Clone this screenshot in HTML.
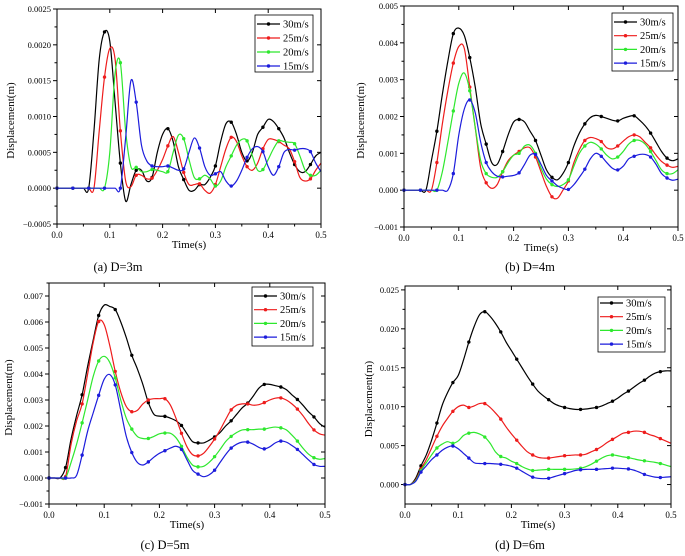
<!DOCTYPE html>
<html><head><meta charset="utf-8"><style>
body{margin:0;background:#fff;}
svg{display:block;font-family:"Liberation Serif",serif;}
</style></head><body>
<svg id="fig" width="685" height="556" viewBox="0 0 685 556"></svg>
<script>
const timeStep = 0.01;
const seriesLabels = ["30m/s","25m/s","20m/s","15m/s"];
const seriesColors = ["#000000","#ee1c1c","#2ee82e","#1c1cdc"];
// Panel (a) D=3m, units 1e-4 m
const a30=[0,0,0,0,0,0,0,8,18,21.8,20.5,12,3.5,-1.8,0.5,2.5,2.5,1,1.5,5,7.5,8.3,6.5,3,1.2,-0.3,-0.3,0.5,0.5,1.5,3.1,6.5,9,9.2,7.5,5,3.8,5,7.5,8.5,9.6,9.3,8.3,7,5,3.3,2.3,2.3,3.3,4.5,5];
const a25=[0,0,0,0,0,0,0,0,8,15.5,19.5,18,8,1,0.2,1.8,1.8,1.3,1.4,2.5,4,5.9,7.2,5,2.2,0.5,0.5,0.6,-0.3,-0.7,0.5,3,5.5,7.1,6.5,4.5,3,2.5,3.5,5.5,6.8,6.8,6.5,6,5.5,3.7,1.5,1,1.3,2.5,3.5];
const a20=[0,0,0,0,0,0,0,0,0,0,5,16,17.5,8,3,2.9,2.3,2.3,2.6,2.5,2.3,2.3,5,7.4,6.9,4,1.5,1.3,1.8,1.3,0.3,1,3,4.5,6,6.8,6.6,4.5,2.5,2.6,4,5.5,6.6,6.5,6.4,6.2,4.5,2.5,1.8,1.8,2.5];
const a15=[0,0,0,0,0,0,0,0,0,0,0,0,0,7,15,12,6,3.8,3.1,3,3,3.1,2.8,2.5,2.7,5,7,5.6,3,1.8,2,2.3,1,0.3,1,2.5,4.3,5.5,5.8,5.1,3,1.8,3,5,5.4,5.3,5.5,5.5,5.1,3.5,2.3];
// Panel (b) D=4m, units 1e-3 m
const b30=[0,0,0,0,0,0.8,1.6,2.6,3.5,4.25,4.4,4.2,3.6,2.8,1.8,1.25,0.75,0.7,1.05,1.5,1.85,1.92,1.85,1.6,1.35,0.95,0.55,0.35,0.28,0.45,0.75,1.2,1.55,1.8,1.97,2.03,2.0,1.95,1.9,1.88,1.95,2.0,2.02,1.9,1.75,1.55,1.3,1.05,0.87,0.8,0.85];
const b25=[0,0,0,0,0,0,0.75,1.8,2.7,3.45,3.9,3.85,2.8,1.7,0.6,0.2,0.05,0.15,0.5,0.8,0.95,1.05,1.15,1.15,0.9,0.5,0.1,-0.18,-0.22,0,0.25,0.75,1.1,1.35,1.43,1.4,1.32,1.15,1.12,1.2,1.33,1.45,1.5,1.45,1.3,1.15,0.95,0.78,0.68,0.62,0.65];
const b20=[0,0,0,0,0,0,0,0.5,1.3,2.15,2.9,3.18,2.7,1.7,0.8,0.45,0.35,0.35,0.5,0.75,0.95,1.0,1.2,1.22,1.0,0.6,0.3,0.15,0.1,0.15,0.28,0.65,1.0,1.2,1.3,1.25,1.12,0.95,0.85,0.9,1.05,1.25,1.35,1.35,1.25,1.05,0.8,0.55,0.45,0.45,0.55];
const b15=[0,0,0,0,0,0,0,0,0,0.45,1.5,2.2,2.45,2.1,1.3,0.75,0.5,0.38,0.36,0.38,0.4,0.47,0.7,0.95,0.97,0.7,0.4,0.25,0.12,0.05,0.02,0.15,0.35,0.57,0.85,1.0,0.92,0.75,0.6,0.55,0.65,0.85,0.92,0.97,0.97,0.9,0.7,0.45,0.33,0.27,0.3];
// Panel (c) D=5m, units 1e-3 m
const c30=[0,0,0,0.4,1.5,2.4,3.2,4.3,5.3,6.25,6.65,6.6,6.48,6.0,5.4,4.72,4.2,3.6,2.9,2.45,2.38,2.37,2.3,2.2,2.02,1.7,1.4,1.35,1.35,1.45,1.58,1.75,2.0,2.2,2.45,2.7,2.88,3.15,3.45,3.6,3.6,3.55,3.5,3.4,3.2,3.02,2.8,2.55,2.35,2.1,1.95];
const c25=[0,0,0,0.05,1.3,2.2,2.85,4,5.2,6.02,5.9,5.1,4.1,3.3,2.75,2.55,2.6,2.85,3.0,3.05,3.05,3.05,2.8,2.3,1.72,1.2,0.9,0.85,0.95,1.2,1.5,1.85,2.25,2.62,2.8,2.85,2.85,2.8,2.82,2.9,3.0,3.07,3.08,3.0,2.85,2.65,2.4,2.1,1.85,1.7,1.65];
const c20=[0,0,0,0,0.6,1.3,2.12,3.0,3.9,4.5,4.68,4.45,3.85,3.0,2.3,1.88,1.6,1.52,1.52,1.6,1.7,1.73,1.72,1.55,1.22,0.8,0.5,0.43,0.45,0.6,0.82,1.1,1.4,1.6,1.75,1.85,1.86,1.86,1.88,1.88,1.93,1.96,1.93,1.85,1.65,1.42,1.15,0.92,0.78,0.72,0.75];
const c15=[0,0,0,0,0,0.1,0.88,1.8,2.5,3.18,3.8,3.98,3.58,2.6,1.6,0.98,0.6,0.5,0.62,0.8,0.95,1.05,1.15,1.22,1.1,0.7,0.3,0.15,0.05,0.12,0.3,0.6,0.9,1.15,1.3,1.38,1.38,1.3,1.18,1.12,1.2,1.35,1.42,1.38,1.25,1.1,0.9,0.7,0.52,0.45,0.45];
// Panel (d) D=6m, units 1e-3 m
const d30=[0,0,0.8,2.4,3.8,5.7,7.9,10.2,11.8,13.1,14,16,18.3,20.3,21.8,22.2,21.6,20.7,19.6,18.3,17.2,16.1,15,13.9,12.9,12,11.4,10.9,10.4,10.1,9.9,9.75,9.65,9.65,9.7,9.8,9.9,10.1,10.4,10.7,11.1,11.6,12.0,12.5,13,13.4,13.9,14.3,14.5,14.6,14.6];
const d25=[0,0,0.6,2.0,3.2,4.7,6.2,7.5,8.5,9.4,10,10.2,9.9,10.1,10.4,10.4,9.9,9.2,8.4,7.4,6.5,5.7,4.9,4.2,3.8,3.5,3.4,3.4,3.5,3.6,3.7,3.75,3.8,3.8,3.9,4.2,4.5,4.9,5.4,5.8,6.2,6.6,6.7,6.85,6.85,6.7,6.4,6.2,5.9,5.6,5.3];
const d20=[0,0,0.5,1.8,2.8,3.8,4.7,5.2,5.5,5.3,5.6,6.3,6.6,6.7,6.5,6.1,5.3,4.2,3.6,3.4,3.0,2.7,2.3,2.0,1.8,1.85,1.9,1.95,1.95,1.95,1.95,1.95,2.0,2.1,2.3,2.6,3.0,3.4,3.7,3.8,3.7,3.55,3.45,3.3,3.15,3.05,2.95,2.85,2.7,2.5,2.3];
const d15=[0,0,0.4,1.6,2.4,3.2,3.8,4.4,4.8,4.95,4.6,4.0,3.4,2.8,2.7,2.7,2.7,2.65,2.6,2.5,2.35,2.1,1.7,1.3,0.95,0.8,0.75,0.8,1.0,1.2,1.4,1.6,1.8,1.9,1.95,1.95,1.95,2.0,2.05,2.1,2.1,2.05,2.0,1.85,1.6,1.3,1.1,0.95,0.9,0.95,1.0];
const xTicks=["0.0","0.1","0.2","0.3","0.4","0.5"];
const yTicksA=["-0.0005","0.0000","0.0005","0.0010","0.0015","0.0020","0.0025"];
const yTicksB=["-0.001","0.000","0.001","0.002","0.003","0.004","0.005"];
const yTicksC=["-0.001","0.000","0.001","0.002","0.003","0.004","0.005","0.006","0.007"];
const yTicksD=["0.000","0.005","0.010","0.015","0.020","0.025"];

const panels=[
 {id:"a",caption:"(a) D=3m",unit:1e-4,series:[a30,a25,a20,a15],yt:yTicksA,ymin:-0.0005,ymax:0.0025,L:57,R:321,T:9,B:224,ytx:10,cap:[118,271],leg:[255,15,58,57,24,14]},
 {id:"b",caption:"(b) D=4m",unit:1e-3,series:[b30,b25,b20,b15],yt:yTicksB,ymin:-0.001,ymax:0.005,L:404,R:678,T:6,B:227,ytx:360,cap:[530,271],leg:[612,13,61,58,22,13.7]},
 {id:"c",caption:"(c) D=5m",unit:1e-3,series:[c30,c25,c20,c15],yt:yTicksC,ymin:-0.001,ymax:0.0075,L:49,R:325,T:283,B:504,ytx:8,cap:[165,549],leg:[252,287,61,59,296,13.7]},
 {id:"d",caption:"(d) D=6m",unit:1e-3,series:[d30,d25,d20,d15],yt:yTicksD,ymin:-0.0025,ymax:0.0255,L:405,R:671,T:286,B:504,ytx:368,cap:[520,549],leg:[598,297,67,55,303,13.7]}
];
const NS="http://www.w3.org/2000/svg";
const svg=document.getElementById("fig");
function mk(tag,attrs,parent){const e=document.createElementNS(NS,tag);for(const k in attrs)e.setAttribute(k,attrs[k]);(parent||svg).appendChild(e);return e;}
function smooth(pts){let d="M"+pts[0][0]+","+pts[0][1];for(let i=0;i<pts.length-1;i++){const p0=pts[i-1]||pts[i],p1=pts[i],p2=pts[i+1],p3=pts[i+2]||p2;
 const c1=[p1[0]+(p2[0]-p0[0])/6,p1[1]+(p2[1]-p0[1])/6],c2=[p2[0]-(p3[0]-p1[0])/6,p2[1]-(p3[1]-p1[1])/6];
 d+=" C"+c1[0].toFixed(2)+","+c1[1].toFixed(2)+" "+c2[0].toFixed(2)+","+c2[1].toFixed(2)+" "+p2[0].toFixed(2)+","+p2[1].toFixed(2);}return d;}
panels.forEach(p=>{
 const g=mk("g",{});
 
 
 const xs=v=>p.L+(v/0.5)*(p.R-p.L);
 const ys=v=>p.B-(v-p.ymin)/(p.ymax-p.ymin)*(p.B-p.T);
 // ticks
 xTicks.forEach((t,i)=>{const v=parseFloat(t),x=xs(v);
  mk("line",{x1:x,x2:x,y1:p.B,y2:p.B+4,stroke:"#000","stroke-width":1},g);
  mk("line",{x1:x,x2:x,y1:p.T,y2:p.T+4,stroke:"#000","stroke-width":1},g);
  if(i<5){const xm=xs(v+0.05);mk("line",{x1:xm,x2:xm,y1:p.B,y2:p.B+2.5,stroke:"#000","stroke-width":1},g);}
  const tx=mk("text",{x:x,y:p.B+14,"font-size":9,"text-anchor":"middle"},g);tx.textContent=t;
  
  
 });
 p.yt.forEach((t,i)=>{const v=parseFloat(t),y=ys(v);
  mk("line",{x1:p.L-4,x2:p.L,y1:y,y2:y,stroke:"#000","stroke-width":1},g);
  mk("line",{x1:p.R-4,x2:p.R,y1:y,y2:y,stroke:"#000","stroke-width":1},g);
  const step=parseFloat(p.yt[1])-parseFloat(p.yt[0]);const ym=ys(v+step/2);
  if(ym>=p.T){mk("line",{x1:p.L-2.5,x2:p.L,y1:ym,y2:ym,stroke:"#000","stroke-width":1},g);}
  const tx=mk("text",{x:p.L-6,y:y+3,"font-size":8.5,"text-anchor":"end"},g);tx.textContent=t.replace("-","\u2212");
  
  
 });
 // series
 p.series.forEach((arr,si)=>{
  const pts=arr.map((v,i)=>[xs(i*timeStep),ys(v*p.unit)]);
  const path=mk("path",{d:smooth(pts),fill:"none",stroke:seriesColors[si],"stroke-width":1.2},g);
  
  
  pts.forEach((q,i)=>{if(i%3===0){const c=mk("circle",{cx:q[0],cy:q[1],r:1.7,fill:seriesColors[si]},g);
   
   }});
 });
 const fr=mk("rect",{x:p.L,y:p.T,width:p.R-p.L,height:p.B-p.T,fill:"none",stroke:"#000","stroke-width":1},g);
 
 
 // legend
 const [lx,ly,lw,lh,r0,dr]=p.leg;
 const lg=mk("g",{},g);
 
 
 mk("rect",{x:lx,y:ly,width:lw,height:lh,fill:"#fff",stroke:"#000","stroke-width":0.8},lg);
 seriesLabels.forEach((s,si)=>{const y=r0+si*dr;
  mk("line",{x1:lx+2,x2:lx+25,y1:y,y2:y,stroke:seriesColors[si],"stroke-width":1.2},lg);
  mk("circle",{cx:lx+13.5,cy:y,r:1.7,fill:seriesColors[si]},lg);
  const t=mk("text",{x:lx+28,y:y+3.5,"font-size":10.5},lg);t.textContent=s;
  
  
 });
 const xt=mk("text",{x:(p.L+p.R)/2,y:p.B+24,"font-size":11,"text-anchor":"middle"},g);xt.textContent="Time(s)";
 
 
 const yc=(p.T+p.B)/2;
 const yt=mk("text",{x:p.ytx,y:yc,"font-size":11,"text-anchor":"middle",transform:"rotate(-90 "+(p.ytx+4)+" "+yc+")"},g);yt.textContent="Displacement(m)";
 
 
 const cp=mk("text",{x:p.cap[0],y:p.cap[1],"font-size":12.5,"text-anchor":"middle"},g);cp.textContent=p.caption;
 
 
});
</script>
</body></html>
